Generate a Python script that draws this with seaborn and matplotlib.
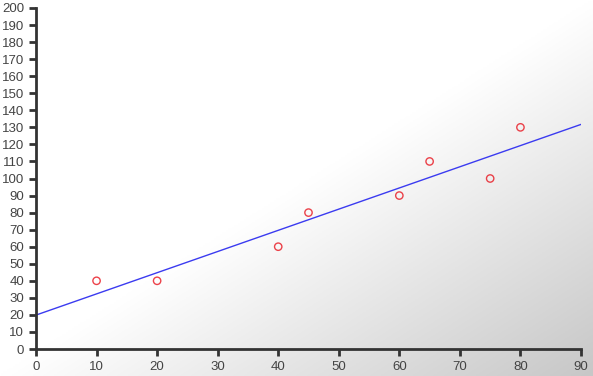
import numpy as np
import pandas as pd
import matplotlib
matplotlib.use("Agg")
import matplotlib.pyplot as plt
import seaborn as sns

x_values = [10, 20, 40, 45, 60, 65, 75, 80]
y_values = [40, 40, 60, 80, 90, 110, 100, 130]
x_ticks = list(range(0, 91, 10))
y_ticks = list(range(0, 201, 10))

df = pd.DataFrame({"x": x_values, "y": y_values})

sns.set_style("ticks")
plt.rcParams['font.family'] = ['Liberation Sans', 'DejaVu Sans']

W, H = 593, 376
fig = plt.figure(figsize=(W / 100, H / 100), dpi=100)

# background gradient
bg = fig.add_axes([0, 0, 1, 1], zorder=-10)
xx, yy = np.meshgrid(np.linspace(0, 1, 300), np.linspace(0, 1, 200))
s = xx + yy
t = np.clip((s - 1.0) / 1.0, 0, 1)
val = 1.0 - t * (56 / 255)
img = np.dstack([val, val, val])
bg.imshow(img, aspect='auto', extent=[0, 1, 0, 1], origin='upper')
bg.axis('off')

ax = fig.add_axes([36 / W, (H - 349) / H, (581 - 36) / W, (349 - 8) / H])
ax.patch.set_alpha(0)
ax.set_xlim(0, 90)
ax.set_ylim(0, 200)

sns.regplot(data=df, x="x", y="y", ax=ax, ci=None, truncate=False,
            scatter_kws=dict(s=28, facecolors='none', edgecolors='#e8141e', linewidths=1.0, zorder=3),
            line_kws=dict(color='#3b3bf0', linewidth=1.0))
ax.collections[0].set_facecolor('none')
ax.collections[0].set_edgecolor('#e8141e')

ax.set_xlim(0, 90)
ax.set_ylim(0, 200)
ax.set_xticks(x_ticks)
ax.set_yticks(y_ticks)
ax.set_xlabel("")
ax.set_ylabel("")
for side in ['top', 'right']:
    ax.spines[side].set_visible(False)
for side in ['left', 'bottom']:
    ax.spines[side].set_color('#333333')
    ax.spines[side].set_linewidth(2)
ax.tick_params(axis='both', length=5, width=2, color='#333333', labelcolor='#444444',
               labelsize=9.5)
ax.tick_params(axis='y', pad=3.5)
ax.tick_params(axis='x', pad=4)

fig.savefig("out.png", dpi=100)
